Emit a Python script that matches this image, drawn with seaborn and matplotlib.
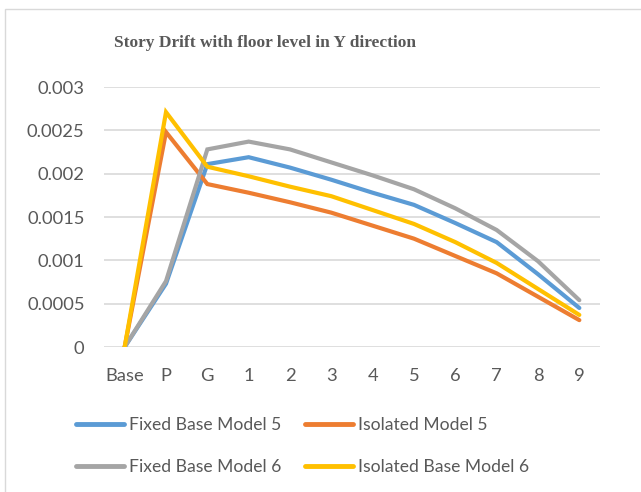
import matplotlib
matplotlib.use("Agg")
import matplotlib.pyplot as plt
import seaborn as sns
import pandas as pd
from matplotlib.patches import Rectangle

floors = ["Base", "P", "G", "1", "2", "3", "4", "5", "6", "7", "8", "9"]
fixed_m5 = [0, 0.00073, 0.00211, 0.00219, 0.00207, 0.00193, 0.00178, 0.00164, 0.00143, 0.00121, 0.00084, 0.00045]
isolated_m5 = [0, 0.00248, 0.00188, 0.00178, 0.00167, 0.00155, 0.00140, 0.00125, 0.00105, 0.00085, 0.00058, 0.00031]
fixed_m6 = [0, 0.00076, 0.00228, 0.00237, 0.00228, 0.00213, 0.00198, 0.00182, 0.00160, 0.00135, 0.00099, 0.00054]
isolated_m6 = [0, 0.00271, 0.00208, 0.00197, 0.00185, 0.00174, 0.00158, 0.00142, 0.00121, 0.00097, 0.00067, 0.00037]
series_names = ["Fixed Base Model 5", "Isolated Model 5", "Fixed Base Model 6", "Isolated Base Model 6"]
y_ticks = [0, 0.0005, 0.001, 0.0015, 0.002, 0.0025, 0.003]
y_labels = ["0", "0.0005", "0.001", "0.0015", "0.002", "0.0025", "0.003"]
title = "Story Drift with floor level in Y direction"

colors = ["#5B9BD5", "#ED7D31", "#A5A5A5", "#FFC000"]

rows = []
for name, vals in zip(series_names, [fixed_m5, isolated_m5, fixed_m6, isolated_m6]):
    for i, (f, v) in enumerate(zip(floors, vals)):
        rows.append({"idx": i, "floor": f, "drift": v, "series": name})
df = pd.DataFrame(rows)

sns.set_theme(style="white")
plt.rcParams["font.family"] = ["Lato", "DejaVu Sans"]

W, H = 641, 492
fig = plt.figure(figsize=(W / 100, H / 100), dpi=100)
ax = fig.add_axes([104 / W, 1 - 347 / H, (600 - 104) / W, (347 - 87) / H])

sns.lineplot(data=df, x="idx", y="drift", hue="series", hue_order=series_names,
             palette=colors, linewidth=3.0, ax=ax, sort=False, legend=True)
for ln in ax.get_lines():
    ln.set_solid_capstyle("round")
    ln.set_solid_joinstyle("miter")

ax.set_xlim(-0.5, len(floors) - 0.5)
ax.set_ylim(0, 0.003)
ax.set_xticks(range(len(floors)))
ax.set_xticklabels(floors)
ax.set_yticks(y_ticks)
ax.set_yticklabels(y_labels)
ax.set_xlabel("")
ax.set_ylabel("")
ax.grid(axis="y", color="#D9D9D9", linewidth=1.2)
ax.set_axisbelow(True)
for s in ax.spines.values():
    s.set_visible(False)
ax.tick_params(axis="x", length=0, pad=15, labelsize=13.2, labelcolor="#595959")
ax.tick_params(axis="y", length=0, pad=14, labelsize=13.2, labelcolor="#595959")

handles, labels = ax.get_legend_handles_labels()
ax.get_legend().remove()
order = [0, 2, 1, 3]
leg = fig.legend([handles[i] for i in order], [labels[i] for i in order],
                 ncol=2, frameon=False, loc="center left",
                 bbox_to_anchor=(60 / W, 1 - 446 / H),
                 fontsize=12.6, handlelength=2.75, handletextpad=0.3,
                 columnspacing=1.35, labelspacing=1.45, labelcolor="#595959")
for lh in leg.get_lines():
    lh.set_linewidth(3.5)
    lh.set_solid_capstyle("round")

fig.text(265 / W, 1 - 43 / H, title, ha="center", va="center",
         fontsize=12.5, fontweight="bold", color="#595959",
         family=["Liberation Serif", "DejaVu Serif"])

fig.patches.append(Rectangle((5 / W, -0.05), 1.1, 1 - 9 / H + 0.05,
                             transform=fig.transFigure, fill=False,
                             edgecolor="#D9D9D9", linewidth=1.0))

fig.savefig("out.png", dpi=100, facecolor="white")
